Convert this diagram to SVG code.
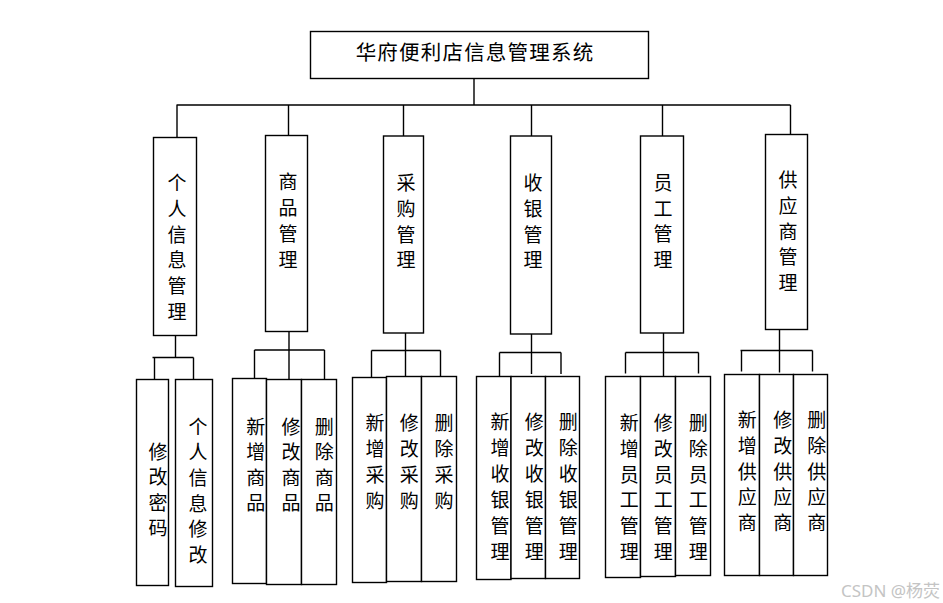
<svg xmlns="http://www.w3.org/2000/svg" width="943" height="603" viewBox="0 0 943 603">
<style>
.b{fill:#fff;stroke:#000;stroke-width:1.4}
.c path{fill:none;stroke:#000;stroke-width:1.4}
.t{font-family:"Noto Sans CJK SC","Noto Sans",sans-serif;font-size:19px;fill:#000;text-anchor:middle}
.h{font-size:20.5px;letter-spacing:1.2px}
.w{font-family:"Noto Sans","Noto Sans CJK SC",sans-serif;font-size:17px;fill:#c4c4c4}
</style>
<rect width="943" height="603" fill="#fff"/>
<g class="c" id="connectors">
<path d="M474,78V105M176.5,105H790.5M177,105V137.5M288.5,105V135.5M403.5,105V136M531.5,105V136M662.5,105V136M790.5,105V134.5"/>
<path d="M175.5,335.5V357.5M152.5,357.5H193.5M154.5,357.5V379.5M193.5,357.5V380.5"/>
<path d="M289,331.5V379.5M254.5,350H324.5M254.5,350V378.5M324.5,350V379.5"/>
<path d="M405.5,333V376.5M371.5,350.5H440.5M371.5,350.5V377.5M440.5,350.5V376.5"/>
<path d="M531.5,334V374M499.5,352.5H561M499.5,352.5V376M561,352.5V374"/>
<path d="M663.5,333V376.5M625.5,352.5H698.5M625.5,352.5V373.5M698.5,352.5V373.5"/>
<path d="M779.5,329.5V372.5M740.5,350.5H812.5M741.5,350.5V371.5M812.5,350.5V371.5"/>
</g>
<g id="root"><rect class="b" x="310.5" y="31.5" width="338" height="47"/><text class="t h" x="475" y="60">华府便利店信息管理系统</text></g>
<g id="n1"><rect class="b" x="153.5" y="137.5" width="43" height="198"/><text class="t" x="177"><tspan x="177" y="190.3">个</tspan><tspan x="177" dy="25.7">人</tspan><tspan x="177" dy="25.7">信</tspan><tspan x="177" dy="25.7">息</tspan><tspan x="177" dy="25.7">管</tspan><tspan x="177" dy="25.7">理</tspan></text></g>
<g id="n2"><rect class="b" x="265.5" y="135.5" width="42" height="196"/><text class="t"><tspan x="288" y="188.7">商</tspan><tspan x="288" dy="26">品</tspan><tspan x="288" dy="26">管</tspan><tspan x="288" dy="26">理</tspan></text></g>
<g id="n3"><rect class="b" x="383.5" y="136" width="40" height="197"/><text class="t"><tspan x="406" y="190.3">采</tspan><tspan x="406" dy="25.6">购</tspan><tspan x="406" dy="25.6">管</tspan><tspan x="406" dy="25.6">理</tspan></text></g>
<g id="n4"><rect class="b" x="510.5" y="136" width="41" height="198"/><text class="t"><tspan x="533" y="190.3">收</tspan><tspan x="533" dy="25.6">银</tspan><tspan x="533" dy="25.6">管</tspan><tspan x="533" dy="25.6">理</tspan></text></g>
<g id="n5"><rect class="b" x="640.5" y="136" width="43" height="197"/><text class="t"><tspan x="663" y="190">员</tspan><tspan x="663" dy="25.7">工</tspan><tspan x="663" dy="25.7">管</tspan><tspan x="663" dy="25.7">理</tspan></text></g>
<g id="n6"><rect class="b" x="765.5" y="134.5" width="42" height="195"/><text class="t"><tspan x="788" y="187">供</tspan><tspan x="788" dy="25.8">应</tspan><tspan x="788" dy="25.8">商</tspan><tspan x="788" dy="25.8">管</tspan><tspan x="788" dy="25.8">理</tspan></text></g>
<g id="n1a"><rect class="b" x="136.5" y="379.5" width="32" height="206"/><text class="t"><tspan x="158" y="458.7">修</tspan><tspan x="158" dy="25.5">改</tspan><tspan x="158" dy="25.5">密</tspan><tspan x="158" dy="25.5">码</tspan></text></g>
<g id="n1b"><rect class="b" x="175.5" y="379.5" width="37" height="207"/><text class="t"><tspan x="198" y="433.7">个</tspan><tspan x="198" dy="25.6">人</tspan><tspan x="198" dy="25.6">信</tspan><tspan x="198" dy="25.6">息</tspan><tspan x="198" dy="25.6">修</tspan><tspan x="198" dy="25.6">改</tspan></text></g>
<g id="n2a"><rect class="b" x="232.5" y="378.5" width="34" height="205"/><text class="t"><tspan x="255.7" y="433.7">新</tspan><tspan x="255.7" dy="25.5">增</tspan><tspan x="255.7" dy="25.5">商</tspan><tspan x="255.7" dy="25.5">品</tspan></text></g>
<g id="n2b"><rect class="b" x="266.5" y="379.5" width="35" height="205"/><text class="t"><tspan x="291" y="433.7">修</tspan><tspan x="291" dy="25.5">改</tspan><tspan x="291" dy="25.5">商</tspan><tspan x="291" dy="25.5">品</tspan></text></g>
<g id="n2c"><rect class="b" x="301.5" y="379.5" width="35" height="205"/><text class="t"><tspan x="324.3" y="433.7">删</tspan><tspan x="324.3" dy="25.5">除</tspan><tspan x="324.3" dy="25.5">商</tspan><tspan x="324.3" dy="25.5">品</tspan></text></g>
<g id="n3a"><rect class="b" x="352.5" y="377.5" width="34" height="205"/><text class="t"><tspan x="375" y="430.3">新</tspan><tspan x="375" dy="26">增</tspan><tspan x="375" dy="26">采</tspan><tspan x="375" dy="26">购</tspan></text></g>
<g id="n3b"><rect class="b" x="386.5" y="376.5" width="35" height="205"/><text class="t"><tspan x="409.3" y="430.3">修</tspan><tspan x="409.3" dy="26">改</tspan><tspan x="409.3" dy="26">采</tspan><tspan x="409.3" dy="26">购</tspan></text></g>
<g id="n3c"><rect class="b" x="421.5" y="376.5" width="35" height="205"/><text class="t"><tspan x="444" y="430.3">删</tspan><tspan x="444" dy="26">除</tspan><tspan x="444" dy="26">采</tspan><tspan x="444" dy="26">购</tspan></text></g>
<g id="n4a"><rect class="b" x="476.5" y="376.5" width="34.5" height="203"/><text class="t"><tspan x="500" y="428.7">新</tspan><tspan x="500" dy="26">增</tspan><tspan x="500" dy="26">收</tspan><tspan x="500" dy="26">银</tspan><tspan x="500" dy="26">管</tspan><tspan x="500" dy="26">理</tspan></text></g>
<g id="n4b"><rect class="b" x="511" y="376.5" width="34.5" height="202"/><text class="t"><tspan x="534.3" y="428.7">修</tspan><tspan x="534.3" dy="26">改</tspan><tspan x="534.3" dy="26">收</tspan><tspan x="534.3" dy="26">银</tspan><tspan x="534.3" dy="26">管</tspan><tspan x="534.3" dy="26">理</tspan></text></g>
<g id="n4c"><rect class="b" x="545.5" y="376.5" width="34" height="202"/><text class="t"><tspan x="568.3" y="428.7">删</tspan><tspan x="568.3" dy="26">除</tspan><tspan x="568.3" dy="26">收</tspan><tspan x="568.3" dy="26">银</tspan><tspan x="568.3" dy="26">管</tspan><tspan x="568.3" dy="26">理</tspan></text></g>
<g id="n5a"><rect class="b" x="605.5" y="376.5" width="35" height="201"/><text class="t"><tspan x="629.3" y="430.3">新</tspan><tspan x="629.3" dy="25.7">增</tspan><tspan x="629.3" dy="25.7">员</tspan><tspan x="629.3" dy="25.7">工</tspan><tspan x="629.3" dy="25.7">管</tspan><tspan x="629.3" dy="25.7">理</tspan></text></g>
<g id="n5b"><rect class="b" x="640.5" y="376.5" width="35" height="200"/><text class="t"><tspan x="663.3" y="430.3">修</tspan><tspan x="663.3" dy="25.7">改</tspan><tspan x="663.3" dy="25.7">员</tspan><tspan x="663.3" dy="25.7">工</tspan><tspan x="663.3" dy="25.7">管</tspan><tspan x="663.3" dy="25.7">理</tspan></text></g>
<g id="n5c"><rect class="b" x="675.5" y="376.5" width="35" height="199"/><text class="t"><tspan x="698.3" y="430.3">删</tspan><tspan x="698.3" dy="25.7">除</tspan><tspan x="698.3" dy="25.7">员</tspan><tspan x="698.3" dy="25.7">工</tspan><tspan x="698.3" dy="25.7">管</tspan><tspan x="698.3" dy="25.7">理</tspan></text></g>
<g id="n6a"><rect class="b" x="724.5" y="374.5" width="35" height="201"/><text class="t"><tspan x="747.3" y="427">新</tspan><tspan x="747.3" dy="25.8">增</tspan><tspan x="747.3" dy="25.8">供</tspan><tspan x="747.3" dy="25.8">应</tspan><tspan x="747.3" dy="25.8">商</tspan></text></g>
<g id="n6b"><rect class="b" x="759.5" y="374.5" width="34" height="201"/><text class="t"><tspan x="782.7" y="427">修</tspan><tspan x="782.7" dy="25.8">改</tspan><tspan x="782.7" dy="25.8">供</tspan><tspan x="782.7" dy="25.8">应</tspan><tspan x="782.7" dy="25.8">商</tspan></text></g>
<g id="n6c"><rect class="b" x="793.5" y="374.5" width="34" height="201"/><text class="t"><tspan x="816.7" y="427">删</tspan><tspan x="816.7" dy="25.8">除</tspan><tspan x="816.7" dy="25.8">供</tspan><tspan x="816.7" dy="25.8">应</tspan><tspan x="816.7" dy="25.8">商</tspan></text></g>
<text class="w" x="841" y="597">CSDN @杨荧</text>
</svg>
